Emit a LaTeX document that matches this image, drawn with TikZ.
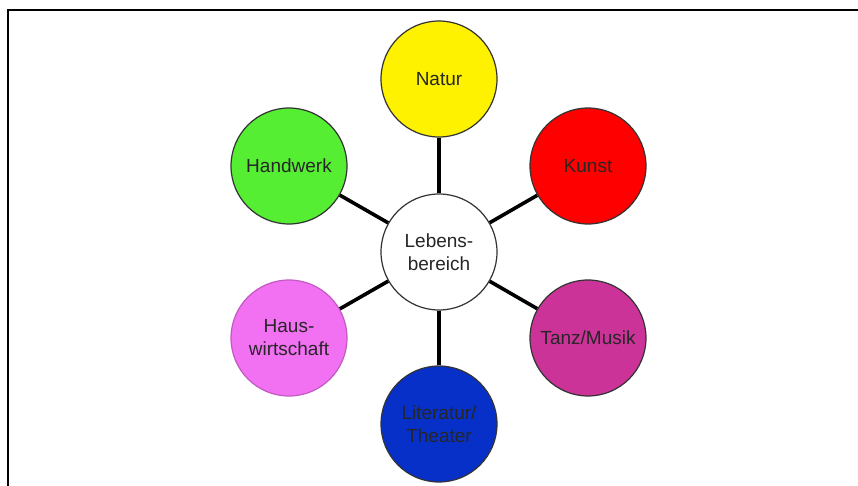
\documentclass[tikz,border=0pt]{standalone}
\usepackage{fontspec}
\setmainfont{Liberation Sans}
\begin{document}
\begin{tikzpicture}[x=1pt,y=-1pt,
  bubble/.style={circle,draw=black!80,line width=1.2pt,minimum size=116pt,inner sep=0pt,
    align=center,font=\fontsize{19}{23}\selectfont,text=black!85},
  link/.style={line width=3.6pt,black}]
\useasboundingbox (0,0) rectangle (858,486);
\draw[line width=1.5pt] (8,486) -- (8,10) -- (858,10);
\definecolor{cgreen}{HTML}{55EE33}
\definecolor{cpink}{HTML}{F270F2}
\definecolor{cmag}{HTML}{CC3399}
\definecolor{cblue}{HTML}{0730C8}
\node[bubble,fill=white] (c) at (439,252) {Lebens-\\bereich};
\node[bubble,fill=yellow] (natur) at (439,79) {Natur};
\node[bubble,fill=cgreen] (hand) at (289,166) {Handwerk};
\node[bubble,fill=red] (kunst) at (588,166) {Kunst};
\node[bubble,fill=cpink,draw=cpink!80!black] (haus) at (289,338) {Haus-\\wirtschaft};
\node[bubble,fill=cmag] (tanz) at (588,338) {Tanz/Musik};
\node[bubble,fill=cblue] (lit) at (439,424) {Literatur/\\Theater};
\foreach \n in {natur,hand,kunst,haus,tanz,lit}
  \draw[link] (c) -- (\n);
\end{tikzpicture}
\end{document}
